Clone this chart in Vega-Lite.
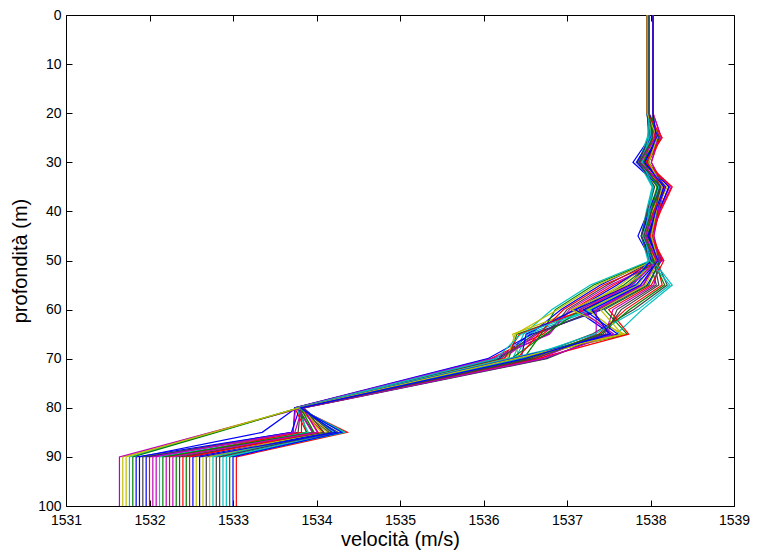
{
  "$schema": "https://vega.github.io/schema/vega-lite/v6.json",
  "width": 668,
  "height": 491,
  "autosize": {"type": "none"},
  "padding": {"left": 66, "top": 15, "right": 23, "bottom": 47},
  "background": "white",
  "config": {
    "view": {"stroke": "#000000", "strokeWidth": 1},
    "axis": {
      "domain": false, "grid": false, "ticks": true, "tickColor": "#000000", "tickSize": -6, "tickWidth": 1,
      "labelFont": "Liberation Sans", "labelFontSize": 14, "labelColor": "#000000", "labelFlush": false, "labelOverlap": false,
      "titleFont": "Liberation Sans", "titleFontSize": 20, "titleFontWeight": "normal", "titleColor": "#000000"
    }
  },
  "data": {"values": [
    {"p":0,"d":0,"v":1537.96},{"p":0,"d":20,"v":1537.96},{"p":0,"d":25,"v":1537.99},{"p":0,"d":30,"v":1537.79},{"p":0,"d":35,"v":1538.11},{"p":0,"d":40,"v":1537.97},{"p":0,"d":45,"v":1537.85},{"p":0,"d":50,"v":1538.01},{"p":0,"d":55,"v":1537.40},{"p":0,"d":60,"v":1536.93},{"p":0,"d":65,"v":1536.56},{"p":0,"d":70,"v":1536.18},{"p":0,"d":80,"v":1533.76},{"p":0,"d":85,"v":1533.35},{"p":0,"d":90,"v":1531.88},{"p":0,"d":100,"v":1531.88},
    {"p":1,"d":0,"v":1537.98},{"p":1,"d":20,"v":1537.98},{"p":1,"d":25,"v":1538.06},{"p":1,"d":30,"v":1537.94},{"p":1,"d":35,"v":1538.13},{"p":1,"d":40,"v":1538.04},{"p":1,"d":45,"v":1537.97},{"p":1,"d":50,"v":1538.07},{"p":1,"d":55,"v":1537.76},{"p":1,"d":60,"v":1537.24},{"p":1,"d":65,"v":1536.40},{"p":1,"d":70,"v":1536.30},{"p":1,"d":80,"v":1533.78},{"p":1,"d":85,"v":1533.96},{"p":1,"d":90,"v":1532.44},{"p":1,"d":100,"v":1532.44},
    {"p":2,"d":0,"v":1538.03},{"p":2,"d":20,"v":1538.03},{"p":2,"d":25,"v":1538.13},{"p":2,"d":30,"v":1537.97},{"p":2,"d":35,"v":1538.22},{"p":2,"d":40,"v":1538.11},{"p":2,"d":45,"v":1538.02},{"p":2,"d":50,"v":1538.14},{"p":2,"d":55,"v":1537.56},{"p":2,"d":60,"v":1537.07},{"p":2,"d":65,"v":1536.71},{"p":2,"d":70,"v":1536.08},{"p":2,"d":80,"v":1533.74},{"p":2,"d":85,"v":1533.88},{"p":2,"d":90,"v":1532.00},{"p":2,"d":100,"v":1532.00},
    {"p":3,"d":0,"v":1537.96},{"p":3,"d":20,"v":1537.96},{"p":3,"d":25,"v":1537.99},{"p":3,"d":30,"v":1537.91},{"p":3,"d":35,"v":1538.04},{"p":3,"d":40,"v":1537.99},{"p":3,"d":45,"v":1537.94},{"p":3,"d":50,"v":1538.00},{"p":3,"d":55,"v":1537.28},{"p":3,"d":60,"v":1536.82},{"p":3,"d":65,"v":1536.48},{"p":3,"d":70,"v":1536.35},{"p":3,"d":80,"v":1533.79},{"p":3,"d":85,"v":1534.25},{"p":3,"d":90,"v":1532.88},{"p":3,"d":100,"v":1532.88},
    {"p":4,"d":0,"v":1537.98},{"p":4,"d":20,"v":1537.98},{"p":4,"d":25,"v":1538.11},{"p":4,"d":30,"v":1537.91},{"p":4,"d":35,"v":1538.23},{"p":4,"d":40,"v":1538.09},{"p":4,"d":45,"v":1537.97},{"p":4,"d":50,"v":1538.13},{"p":4,"d":55,"v":1537.88},{"p":4,"d":60,"v":1537.35},{"p":4,"d":65,"v":1536.64},{"p":4,"d":70,"v":1536.23},{"p":4,"d":80,"v":1533.77},{"p":4,"d":85,"v":1533.95},{"p":4,"d":90,"v":1532.20},{"p":4,"d":100,"v":1532.20},
    {"p":5,"d":0,"v":1538.03},{"p":5,"d":20,"v":1538.03},{"p":5,"d":25,"v":1537.99},{"p":5,"d":30,"v":1537.85},{"p":5,"d":35,"v":1538.08},{"p":5,"d":40,"v":1537.98},{"p":5,"d":45,"v":1537.89},{"p":5,"d":50,"v":1538.01},{"p":5,"d":55,"v":1537.64},{"p":5,"d":60,"v":1537.14},{"p":5,"d":65,"v":1536.35},{"p":5,"d":70,"v":1536.43},{"p":5,"d":80,"v":1533.80},{"p":5,"d":85,"v":1532.74},{"p":5,"d":90,"v":1531.68},{"p":5,"d":100,"v":1531.68},
    {"p":6,"d":0,"v":1537.96},{"p":6,"d":20,"v":1537.96},{"p":6,"d":25,"v":1538.03},{"p":6,"d":30,"v":1537.93},{"p":6,"d":35,"v":1538.09},{"p":6,"d":40,"v":1538.02},{"p":6,"d":45,"v":1537.96},{"p":6,"d":50,"v":1538.04},{"p":6,"d":55,"v":1537.48},{"p":6,"d":60,"v":1537.00},{"p":6,"d":65,"v":1536.77},{"p":6,"d":70,"v":1536.13},{"p":6,"d":80,"v":1533.75},{"p":6,"d":85,"v":1534.26},{"p":6,"d":90,"v":1532.68},{"p":6,"d":100,"v":1532.68},
    {"p":7,"d":0,"v":1537.98},{"p":7,"d":20,"v":1537.98},{"p":7,"d":25,"v":1538.11},{"p":7,"d":30,"v":1537.93},{"p":7,"d":35,"v":1538.22},{"p":7,"d":40,"v":1538.10},{"p":7,"d":45,"v":1537.99},{"p":7,"d":50,"v":1538.13},{"p":7,"d":55,"v":1537.96},{"p":7,"d":60,"v":1537.42},{"p":7,"d":65,"v":1536.58},{"p":7,"d":70,"v":1536.05},{"p":7,"d":80,"v":1533.74},{"p":7,"d":85,"v":1533.72},{"p":7,"d":90,"v":1531.84},{"p":7,"d":100,"v":1531.84},
    {"p":8,"d":0,"v":1538.03},{"p":8,"d":20,"v":1538.03},{"p":8,"d":25,"v":1538.02},{"p":8,"d":30,"v":1537.90},{"p":8,"d":35,"v":1538.09},{"p":8,"d":40,"v":1538.00},{"p":8,"d":45,"v":1537.93},{"p":8,"d":50,"v":1538.03},{"p":8,"d":55,"v":1537.32},{"p":8,"d":60,"v":1536.86},{"p":8,"d":65,"v":1536.69},{"p":8,"d":70,"v":1536.48},{"p":8,"d":80,"v":1533.80},{"p":8,"d":85,"v":1533.88},{"p":8,"d":90,"v":1532.32},{"p":8,"d":100,"v":1532.32},
    {"p":9,"d":0,"v":1537.96},{"p":9,"d":20,"v":1537.96},{"p":9,"d":25,"v":1538.08},{"p":9,"d":30,"v":1537.92},{"p":9,"d":35,"v":1538.17},{"p":9,"d":40,"v":1538.06},{"p":9,"d":45,"v":1537.97},{"p":9,"d":50,"v":1538.09},{"p":9,"d":55,"v":1537.72},{"p":9,"d":60,"v":1537.21},{"p":9,"d":65,"v":1536.43},{"p":9,"d":70,"v":1536.25},{"p":9,"d":80,"v":1533.77},{"p":9,"d":85,"v":1534.37},{"p":9,"d":90,"v":1533.04},{"p":9,"d":100,"v":1533.04},
    {"p":10,"d":0,"v":1537.98},{"p":10,"d":20,"v":1537.98},{"p":10,"d":25,"v":1537.97},{"p":10,"d":30,"v":1537.87},{"p":10,"d":35,"v":1538.03},{"p":10,"d":40,"v":1537.96},{"p":10,"d":45,"v":1537.90},{"p":10,"d":50,"v":1537.98},{"p":10,"d":55,"v":1537.84},{"p":10,"d":60,"v":1537.31},{"p":10,"d":65,"v":1536.53},{"p":10,"d":70,"v":1536.38},{"p":10,"d":80,"v":1533.79},{"p":10,"d":85,"v":1532.78},{"p":10,"d":90,"v":1531.76},{"p":10,"d":100,"v":1531.76},
    {"p":11,"d":0,"v":1538.03},{"p":11,"d":20,"v":1538.03},{"p":11,"d":25,"v":1538.13},{"p":11,"d":30,"v":1537.93},{"p":11,"d":35,"v":1538.25},{"p":11,"d":40,"v":1538.11},{"p":11,"d":45,"v":1537.99},{"p":11,"d":50,"v":1538.15},{"p":11,"d":55,"v":1537.52},{"p":11,"d":60,"v":1537.03},{"p":11,"d":65,"v":1536.79},{"p":11,"d":70,"v":1536.10},{"p":11,"d":80,"v":1533.75},{"p":11,"d":85,"v":1533.72},{"p":11,"d":90,"v":1532.08},{"p":11,"d":100,"v":1532.08},
    {"p":12,"d":0,"v":1537.96},{"p":12,"d":20,"v":1537.96},{"p":12,"d":25,"v":1538.03},{"p":12,"d":30,"v":1537.89},{"p":12,"d":35,"v":1538.12},{"p":12,"d":40,"v":1538.02},{"p":12,"d":45,"v":1537.93},{"p":12,"d":50,"v":1538.05},{"p":12,"d":55,"v":1537.36},{"p":12,"d":60,"v":1536.89},{"p":12,"d":65,"v":1536.38},{"p":12,"d":70,"v":1536.28},{"p":12,"d":80,"v":1533.77},{"p":12,"d":85,"v":1534.16},{"p":12,"d":90,"v":1532.56},{"p":12,"d":100,"v":1532.56},
    {"p":13,"d":0,"v":1537.98},{"p":13,"d":20,"v":1537.98},{"p":13,"d":25,"v":1538.06},{"p":13,"d":30,"v":1537.98},{"p":13,"d":35,"v":1538.11},{"p":13,"d":40,"v":1538.06},{"p":13,"d":45,"v":1538.01},{"p":13,"d":50,"v":1538.07},{"p":13,"d":55,"v":1537.92},{"p":13,"d":60,"v":1537.38},{"p":13,"d":65,"v":1536.61},{"p":13,"d":70,"v":1536.20},{"p":13,"d":80,"v":1533.76},{"p":13,"d":85,"v":1534.15},{"p":13,"d":90,"v":1532.80},{"p":13,"d":100,"v":1532.80},
    {"p":14,"d":0,"v":1538.03},{"p":14,"d":20,"v":1538.03},{"p":14,"d":25,"v":1538.01},{"p":14,"d":30,"v":1537.83},{"p":14,"d":35,"v":1538.12},{"p":14,"d":40,"v":1538.00},{"p":14,"d":45,"v":1537.89},{"p":14,"d":50,"v":1538.03},{"p":14,"d":55,"v":1537.60},{"p":14,"d":60,"v":1537.10},{"p":14,"d":65,"v":1536.51},{"p":14,"d":70,"v":1536.45},{"p":14,"d":80,"v":1533.80},{"p":14,"d":85,"v":1533.70},{"p":14,"d":90,"v":1531.96},{"p":14,"d":100,"v":1531.96},
    {"p":15,"d":0,"v":1537.96},{"p":15,"d":20,"v":1537.96},{"p":15,"d":25,"v":1538.05},{"p":15,"d":30,"v":1537.93},{"p":15,"d":35,"v":1538.12},{"p":15,"d":40,"v":1538.03},{"p":15,"d":45,"v":1537.96},{"p":15,"d":50,"v":1538.06},{"p":15,"d":55,"v":1537.68},{"p":15,"d":60,"v":1537.17},{"p":15,"d":65,"v":1536.74},{"p":15,"d":70,"v":1536.33},{"p":15,"d":80,"v":1533.78},{"p":15,"d":85,"v":1534.33},{"p":15,"d":90,"v":1532.96},{"p":15,"d":100,"v":1532.96},
    {"p":16,"d":0,"v":1537.98},{"p":16,"d":20,"v":1537.98},{"p":16,"d":25,"v":1538.11},{"p":16,"d":30,"v":1538.01},{"p":16,"d":35,"v":1538.17},{"p":16,"d":40,"v":1538.10},{"p":16,"d":45,"v":1538.04},{"p":16,"d":50,"v":1538.12},{"p":16,"d":55,"v":1537.44},{"p":16,"d":60,"v":1536.96},{"p":16,"d":65,"v":1536.66},{"p":16,"d":70,"v":1536.40},{"p":16,"d":80,"v":1533.79},{"p":16,"d":85,"v":1534.08},{"p":16,"d":90,"v":1532.40},{"p":16,"d":100,"v":1532.40},
    {"p":17,"d":0,"v":1538.03},{"p":17,"d":20,"v":1538.03},{"p":17,"d":25,"v":1537.96},{"p":17,"d":30,"v":1537.86},{"p":17,"d":35,"v":1538.02},{"p":17,"d":40,"v":1537.95},{"p":17,"d":45,"v":1537.89},{"p":17,"d":50,"v":1537.97},{"p":17,"d":55,"v":1537.80},{"p":17,"d":60,"v":1537.28},{"p":17,"d":65,"v":1536.45},{"p":17,"d":70,"v":1536.15},{"p":17,"d":80,"v":1533.76},{"p":17,"d":85,"v":1533.90},{"p":17,"d":90,"v":1532.12},{"p":17,"d":100,"v":1532.12},
    {"p":18,"d":0,"v":1537.96},{"p":18,"d":20,"v":1537.96},{"p":18,"d":25,"v":1538.09},{"p":18,"d":30,"v":1537.95},{"p":18,"d":35,"v":1538.18},{"p":18,"d":40,"v":1538.08},{"p":18,"d":45,"v":1537.99},{"p":18,"d":50,"v":1538.11},{"p":18,"d":55,"v":1538.04},{"p":18,"d":60,"v":1537.55},{"p":18,"d":65,"v":1537.46},{"p":18,"d":70,"v":1536.62},{"p":18,"d":80,"v":1533.83},{"p":18,"d":85,"v":1532.74},{"p":18,"d":90,"v":1531.64},{"p":18,"d":100,"v":1531.64},
    {"p":19,"d":0,"v":1537.98},{"p":19,"d":20,"v":1537.98},{"p":19,"d":25,"v":1538.04},{"p":19,"d":30,"v":1537.84},{"p":19,"d":35,"v":1538.16},{"p":19,"d":40,"v":1538.02},{"p":19,"d":45,"v":1537.90},{"p":19,"d":50,"v":1538.06},{"p":19,"d":55,"v":1537.85},{"p":19,"d":60,"v":1537.25},{"p":19,"d":65,"v":1537.64},{"p":19,"d":70,"v":1536.33},{"p":19,"d":80,"v":1533.78},{"p":19,"d":85,"v":1534.13},{"p":19,"d":90,"v":1532.72},{"p":19,"d":100,"v":1532.72},
    {"p":20,"d":0,"v":1538.03},{"p":20,"d":20,"v":1538.03},{"p":20,"d":25,"v":1538.06},{"p":20,"d":30,"v":1537.96},{"p":20,"d":35,"v":1538.12},{"p":20,"d":40,"v":1538.05},{"p":20,"d":45,"v":1537.99},{"p":20,"d":50,"v":1538.07},{"p":20,"d":55,"v":1538.20},{"p":20,"d":60,"v":1537.80},{"p":20,"d":65,"v":1537.30},{"p":20,"d":70,"v":1536.52},{"p":20,"d":80,"v":1533.81},{"p":20,"d":85,"v":1533.78},{"p":20,"d":90,"v":1531.92},{"p":20,"d":100,"v":1531.92},
    {"p":21,"d":0,"v":1537.96},{"p":21,"d":20,"v":1537.96},{"p":21,"d":25,"v":1538.00},{"p":21,"d":30,"v":1537.84},{"p":21,"d":35,"v":1538.09},{"p":21,"d":40,"v":1537.98},{"p":21,"d":45,"v":1537.89},{"p":21,"d":50,"v":1538.01},{"p":21,"d":55,"v":1537.75},{"p":21,"d":60,"v":1537.10},{"p":21,"d":65,"v":1537.53},{"p":21,"d":70,"v":1536.73},{"p":21,"d":80,"v":1533.84},{"p":21,"d":85,"v":1534.19},{"p":21,"d":90,"v":1532.52},{"p":21,"d":100,"v":1532.52},
    {"p":22,"d":0,"v":1537.98},{"p":22,"d":20,"v":1537.98},{"p":22,"d":25,"v":1538.10},{"p":22,"d":30,"v":1537.98},{"p":22,"d":35,"v":1538.17},{"p":22,"d":40,"v":1538.08},{"p":22,"d":45,"v":1538.01},{"p":22,"d":50,"v":1538.11},{"p":22,"d":55,"v":1537.98},{"p":22,"d":60,"v":1537.45},{"p":22,"d":65,"v":1537.72},{"p":22,"d":70,"v":1536.41},{"p":22,"d":80,"v":1533.79},{"p":22,"d":85,"v":1532.80},{"p":22,"d":90,"v":1531.80},{"p":22,"d":100,"v":1531.80},
    {"p":23,"d":0,"v":1538.03},{"p":23,"d":20,"v":1538.03},{"p":23,"d":25,"v":1538.05},{"p":23,"d":30,"v":1537.87},{"p":23,"d":35,"v":1538.16},{"p":23,"d":40,"v":1538.04},{"p":23,"d":45,"v":1537.93},{"p":23,"d":50,"v":1538.07},{"p":23,"d":55,"v":1538.14},{"p":23,"d":60,"v":1537.70},{"p":23,"d":65,"v":1537.38},{"p":23,"d":70,"v":1536.57},{"p":23,"d":80,"v":1533.82},{"p":23,"d":85,"v":1533.82},{"p":23,"d":90,"v":1532.24},{"p":23,"d":100,"v":1532.24},
    {"p":24,"d":0,"v":1537.96},{"p":24,"d":20,"v":1537.96},{"p":24,"d":25,"v":1538.01},{"p":24,"d":30,"v":1537.87},{"p":24,"d":35,"v":1538.10},{"p":24,"d":40,"v":1538.00},{"p":24,"d":45,"v":1537.91},{"p":24,"d":50,"v":1538.03},{"p":24,"d":55,"v":1538.26},{"p":24,"d":60,"v":1537.90},{"p":24,"d":65,"v":1537.59},{"p":24,"d":70,"v":1536.30},{"p":24,"d":80,"v":1533.78},{"p":24,"d":85,"v":1534.34},{"p":24,"d":90,"v":1532.92},{"p":24,"d":100,"v":1532.92},
    {"p":25,"d":0,"v":1537.98},{"p":25,"d":20,"v":1537.98},{"p":25,"d":25,"v":1538.09},{"p":25,"d":30,"v":1538.01},{"p":25,"d":35,"v":1538.14},{"p":25,"d":40,"v":1538.09},{"p":25,"d":45,"v":1538.04},{"p":25,"d":50,"v":1538.10},{"p":25,"d":55,"v":1537.91},{"p":25,"d":60,"v":1537.35},{"p":25,"d":65,"v":1537.35},{"p":25,"d":70,"v":1536.68},{"p":25,"d":80,"v":1533.83},{"p":25,"d":85,"v":1533.74},{"p":25,"d":90,"v":1532.04},{"p":25,"d":100,"v":1532.04},
    {"p":26,"d":0,"v":1538.03},{"p":26,"d":20,"v":1538.03},{"p":26,"d":25,"v":1538.08},{"p":26,"d":30,"v":1537.88},{"p":26,"d":35,"v":1538.20},{"p":26,"d":40,"v":1538.06},{"p":26,"d":45,"v":1537.94},{"p":26,"d":50,"v":1538.10},{"p":26,"d":55,"v":1537.72},{"p":26,"d":60,"v":1537.05},{"p":26,"d":65,"v":1537.69},{"p":26,"d":70,"v":1536.46},{"p":26,"d":80,"v":1533.80},{"p":26,"d":85,"v":1534.06},{"p":26,"d":90,"v":1532.64},{"p":26,"d":100,"v":1532.64},
    {"p":27,"d":0,"v":1537.96},{"p":27,"d":20,"v":1537.96},{"p":27,"d":25,"v":1537.98},{"p":27,"d":30,"v":1537.86},{"p":27,"d":35,"v":1538.05},{"p":27,"d":40,"v":1537.96},{"p":27,"d":45,"v":1537.89},{"p":27,"d":50,"v":1537.99},{"p":27,"d":55,"v":1538.07},{"p":27,"d":60,"v":1537.60},{"p":27,"d":65,"v":1537.48},{"p":27,"d":70,"v":1536.76},{"p":27,"d":80,"v":1533.85},{"p":27,"d":85,"v":1534.09},{"p":27,"d":90,"v":1532.36},{"p":27,"d":100,"v":1532.36},
    {"p":28,"d":0,"v":1537.98},{"p":28,"d":20,"v":1537.98},{"p":28,"d":25,"v":1538.09},{"p":28,"d":30,"v":1537.93},{"p":28,"d":35,"v":1538.18},{"p":28,"d":40,"v":1538.07},{"p":28,"d":45,"v":1537.98},{"p":28,"d":50,"v":1538.10},{"p":28,"d":55,"v":1537.82},{"p":28,"d":60,"v":1537.20},{"p":28,"d":65,"v":1537.61},{"p":28,"d":70,"v":1536.35},{"p":28,"d":80,"v":1533.79},{"p":28,"d":85,"v":1534.30},{"p":28,"d":90,"v":1533.00},{"p":28,"d":100,"v":1533.00},
    {"p":29,"d":0,"v":1538.03},{"p":29,"d":20,"v":1538.03},{"p":29,"d":25,"v":1538.02},{"p":29,"d":30,"v":1537.92},{"p":29,"d":35,"v":1538.08},{"p":29,"d":40,"v":1538.01},{"p":29,"d":45,"v":1537.95},{"p":29,"d":50,"v":1538.03},{"p":29,"d":55,"v":1538.17},{"p":29,"d":60,"v":1537.75},{"p":29,"d":65,"v":1537.40},{"p":29,"d":70,"v":1536.54},{"p":29,"d":80,"v":1533.81},{"p":29,"d":85,"v":1533.97},{"p":29,"d":90,"v":1532.16},{"p":29,"d":100,"v":1532.16},
    {"p":30,"d":0,"v":1537.96},{"p":30,"d":20,"v":1537.96},{"p":30,"d":25,"v":1538.14},{"p":30,"d":30,"v":1537.94},{"p":30,"d":35,"v":1538.26},{"p":30,"d":40,"v":1538.12},{"p":30,"d":45,"v":1538.00},{"p":30,"d":50,"v":1538.16},{"p":30,"d":55,"v":1538.01},{"p":30,"d":60,"v":1537.50},{"p":30,"d":65,"v":1537.74},{"p":30,"d":70,"v":1536.65},{"p":30,"d":80,"v":1533.83},{"p":30,"d":85,"v":1534.02},{"p":30,"d":90,"v":1532.48},{"p":30,"d":100,"v":1532.48},
    {"p":31,"d":0,"v":1537.98},{"p":31,"d":20,"v":1537.98},{"p":31,"d":25,"v":1537.98},{"p":31,"d":30,"v":1537.90},{"p":31,"d":35,"v":1538.03},{"p":31,"d":40,"v":1537.98},{"p":31,"d":45,"v":1537.93},{"p":31,"d":50,"v":1537.99},{"p":31,"d":55,"v":1538.23},{"p":31,"d":60,"v":1537.85},{"p":31,"d":65,"v":1537.33},{"p":31,"d":70,"v":1536.44},{"p":31,"d":80,"v":1533.80},{"p":31,"d":85,"v":1534.21},{"p":31,"d":90,"v":1532.76},{"p":31,"d":100,"v":1532.76},
    {"p":32,"d":0,"v":1538.03},{"p":32,"d":20,"v":1538.03},{"p":32,"d":25,"v":1538.06},{"p":32,"d":30,"v":1537.88},{"p":32,"d":35,"v":1538.17},{"p":32,"d":40,"v":1538.05},{"p":32,"d":45,"v":1537.94},{"p":32,"d":50,"v":1538.08},{"p":32,"d":55,"v":1537.78},{"p":32,"d":60,"v":1537.15},{"p":32,"d":65,"v":1537.56},{"p":32,"d":70,"v":1536.71},{"p":32,"d":80,"v":1533.84},{"p":32,"d":85,"v":1534.01},{"p":32,"d":90,"v":1532.28},{"p":32,"d":100,"v":1532.28},
    {"p":33,"d":0,"v":1537.96},{"p":33,"d":20,"v":1537.96},{"p":33,"d":25,"v":1538.08},{"p":33,"d":30,"v":1537.98},{"p":33,"d":35,"v":1538.14},{"p":33,"d":40,"v":1538.07},{"p":33,"d":45,"v":1538.01},{"p":33,"d":50,"v":1538.09},{"p":33,"d":55,"v":1537.94},{"p":33,"d":60,"v":1537.40},{"p":33,"d":65,"v":1537.66},{"p":33,"d":70,"v":1536.38},{"p":33,"d":80,"v":1533.79},{"p":33,"d":85,"v":1532.76},{"p":33,"d":90,"v":1531.72},{"p":33,"d":100,"v":1531.72},
    {"p":34,"d":0,"v":1537.98},{"p":34,"d":20,"v":1537.98},{"p":34,"d":25,"v":1538.03},{"p":34,"d":30,"v":1537.87},{"p":34,"d":35,"v":1538.12},{"p":34,"d":40,"v":1538.01},{"p":34,"d":45,"v":1537.92},{"p":34,"d":50,"v":1538.04},{"p":34,"d":55,"v":1538.10},{"p":34,"d":60,"v":1537.65},{"p":34,"d":65,"v":1537.43},{"p":34,"d":70,"v":1536.60},{"p":34,"d":80,"v":1533.82},{"p":34,"d":85,"v":1534.18},{"p":34,"d":90,"v":1532.84},{"p":34,"d":100,"v":1532.84},
    {"p":35,"d":0,"v":1538.03},{"p":35,"d":20,"v":1538.03},{"p":35,"d":25,"v":1538.07},{"p":35,"d":30,"v":1537.93},{"p":35,"d":35,"v":1538.16},{"p":35,"d":40,"v":1538.06},{"p":35,"d":45,"v":1537.97},{"p":35,"d":50,"v":1538.09},{"p":35,"d":55,"v":1537.88},{"p":35,"d":60,"v":1537.30},{"p":35,"d":65,"v":1537.51},{"p":35,"d":70,"v":1536.49},{"p":35,"d":80,"v":1533.81},{"p":35,"d":85,"v":1534.23},{"p":35,"d":90,"v":1532.60},{"p":35,"d":100,"v":1532.60}
  ]},
  "layer": [
    {
      "mark": {"type": "point", "opacity": 0},
      "encoding": {
        "x": {"field": "v", "type": "quantitative", "scale": {"domain": [1531, 1539], "nice": false, "zero": false},
              "axis": {"orient": "top", "values": [1531,1532,1533,1534,1535,1536,1537,1538,1539], "labels": false, "title": null}},
        "y": {"field": "d", "type": "quantitative", "scale": {"domain": [0, 100], "reverse": true, "nice": false, "zero": false},
              "axis": {"orient": "right", "values": [0,10,20,30,40,50,60,70,80,90,100], "labels": false, "title": null}}
      }
    },
    {
      "mark": {"type": "line", "strokeWidth": 1.2, "clip": true},
      "encoding": {
        "x": {"field": "v", "type": "quantitative",
              "axis": {"orient": "bottom", "values": [1531,1532,1533,1534,1535,1536,1537,1538,1539], "format": "d", "labelPadding": 13, "title": "velocità (m/s)", "titlePadding": 2}},
        "y": {"field": "d", "type": "quantitative",
              "axis": {"orient": "left", "values": [0,10,20,30,40,50,60,70,80,90,100], "format": "d", "labelPadding": 11, "title": "profondità (m)", "titlePadding": 7}},
        "color": {"field": "p", "type": "nominal", "legend": null,
                  "scale": {"range": ["#0000ff", "#008000", "#ff0000", "#00bfbf", "#bf00bf", "#bfbf00", "#404040"]}},
        "order": {"field": "d", "type": "quantitative"}
      }
    }
  ],
  "resolve": {"axis": {"x": "independent", "y": "independent"}}
}
